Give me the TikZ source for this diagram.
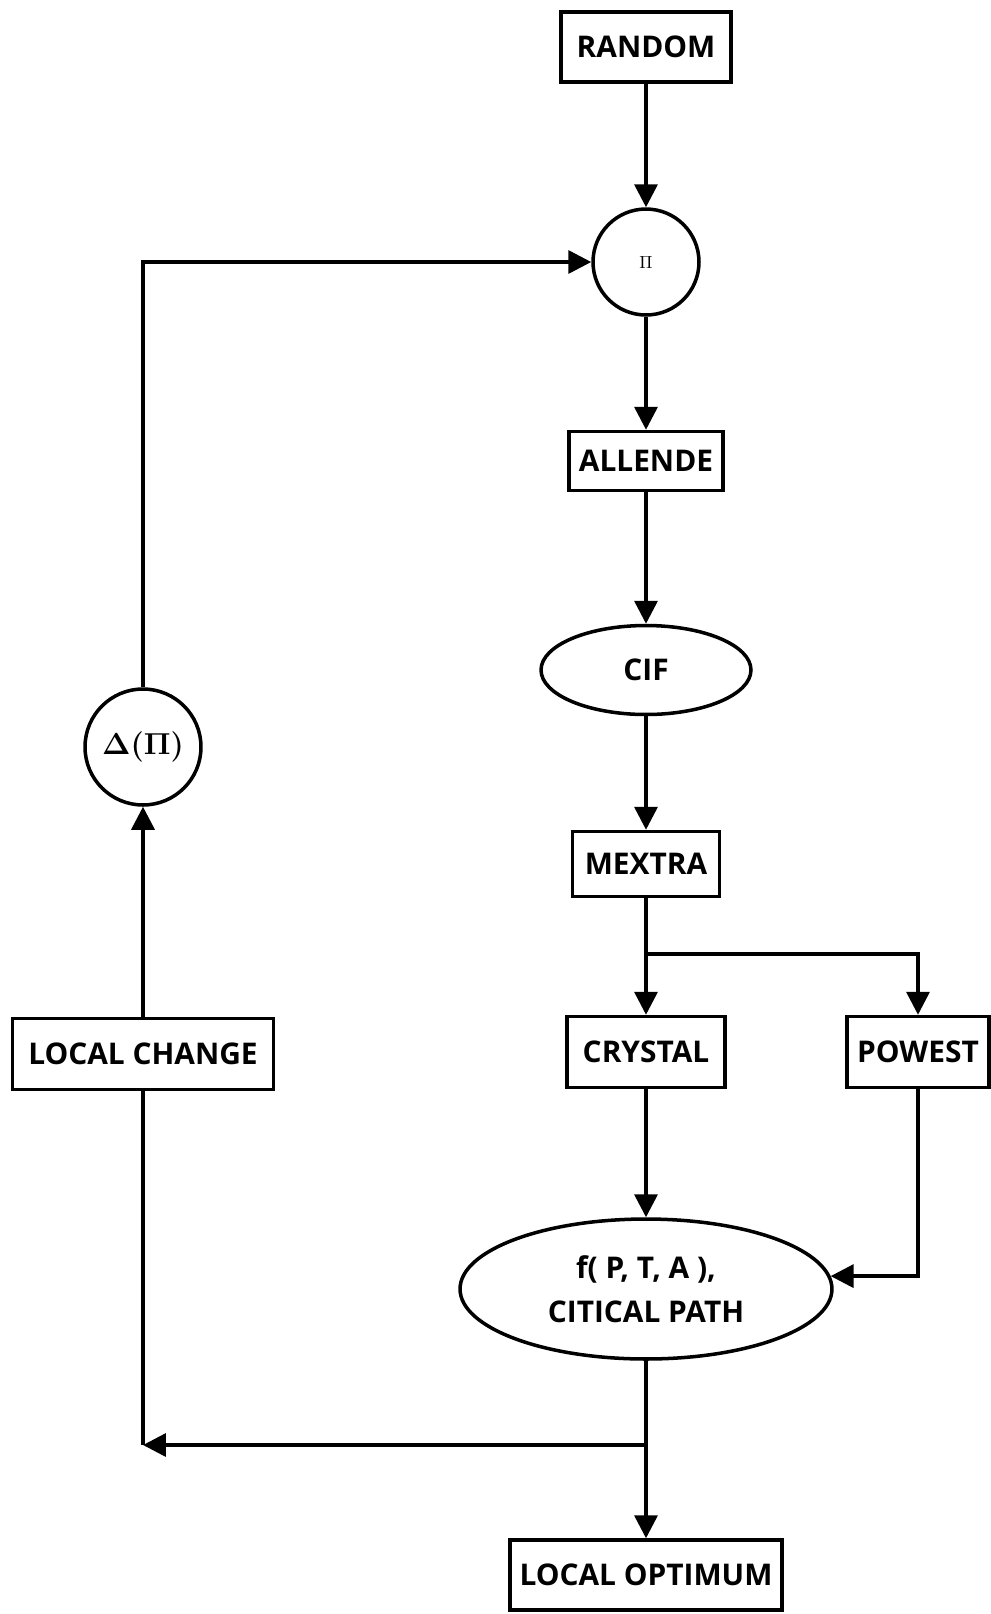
\documentclass[tikz,border=0pt]{standalone}
\usepackage{fontspec}
\setmainfont{Open Sans}
\usepackage{tikz}
\usetikzlibrary{shapes,arrows,arrows.meta,positioning,calc}

\begin{document}
\begin{tikzpicture}[
    x=0.02cm, y=-0.02cm,
    box/.style={rectangle, draw, line width=2pt, minimum height=1.4cm, inner sep=0pt, font=\fontsize{17}{25}\selectfont\bfseries},
    oval/.style={ellipse, draw, line width=2pt, inner sep=0pt, align=center, font=\fontsize{17}{25}\selectfont\bfseries},
    ring/.style={circle, draw, line width=2pt, inner sep=0pt},
    arrow/.style={-{Triangle[width=0.46cm,length=0.46cm]}, line width=2pt},
    wire/.style={line width=2pt}
]
    % ============ Page ============
    \useasboundingbox (0,0) rectangle (991,1614);
    \fill[white] (0,0) rectangle (991,1614);

    % ============ Main chain ============
    \node[box, minimum width=3.4cm] (random) at (646,47) {RANDOM};
    \node[ring, minimum size=2.12cm, font=\fontsize{10}{12}\selectfont] (pinode) at (646,262) {$\Pi$};
    \node[box, minimum width=3.08cm, minimum height=1.18cm] (allende) at (646,461) {ALLENDE};
    \node[oval, minimum width=4.2cm, minimum height=1.78cm] (cif) at (646,670) {CIF};
    \node[box, minimum width=2.94cm, minimum height=1.3cm] (mextra) at (646,864) {MEXTRA};

    % Estimators
    \node[box, minimum width=3.16cm, minimum height=1.42cm] (crystal) at (646,1052) {CRYSTAL};
    \node[box, minimum width=2.84cm, minimum height=1.42cm] (powest) at (918,1052) {POWEST};

    % Cost function
    \node[oval, minimum width=7.44cm, minimum height=2.8cm] (cost) at (646,1289) {f( P, T, A ),\\CITICAL PATH};

    % Result
    \node[box, minimum width=5.44cm] (locopt) at (646,1575) {LOCAL OPTIMUM};

    % ============ Feedback loop ============
    \node[box, minimum width=5.22cm, minimum height=1.42cm] (locchg) at (143,1054) {LOCAL CHANGE};
    \node[ring, minimum size=2.32cm, font=\fontsize{16}{18}\selectfont\boldmath] (delta) at (143,747) {$\Delta(\Pi)$};

    \coordinate (split) at (646,954);
    \coordinate (merge) at (646,1445);
    \coordinate (back) at (143,1445);

    % ============ Connections ============
    \draw[arrow] (random.south) -- (pinode.north);
    \draw[arrow] (pinode.south) -- (allende.north);
    \draw[arrow] (allende.south) -- (cif.north);
    \draw[arrow] (cif.south) -- (mextra.north);

    % MEXTRA split
    \draw[wire] (mextra.south) -- (split);
    \draw[arrow] (split) -- (crystal.north);
    \draw[arrow] (split) -| (powest.north);

    % into cost
    \draw[arrow] (crystal.south) -- (cost.north);
    \draw[arrow] (powest.south) |- (cost.4);

    % out of cost
    \draw[wire] (cost.south) -- (merge);
    \draw[arrow] (merge) -- (locopt.north);
    \draw[arrow] (merge) -- (back);

    % loop back
    \draw[wire] (locchg.south) -- (back);
    \draw[arrow] (locchg.north) -- (delta.south);
    \draw[arrow] (delta.north) |- (pinode.west);

\end{tikzpicture}
\end{document}
